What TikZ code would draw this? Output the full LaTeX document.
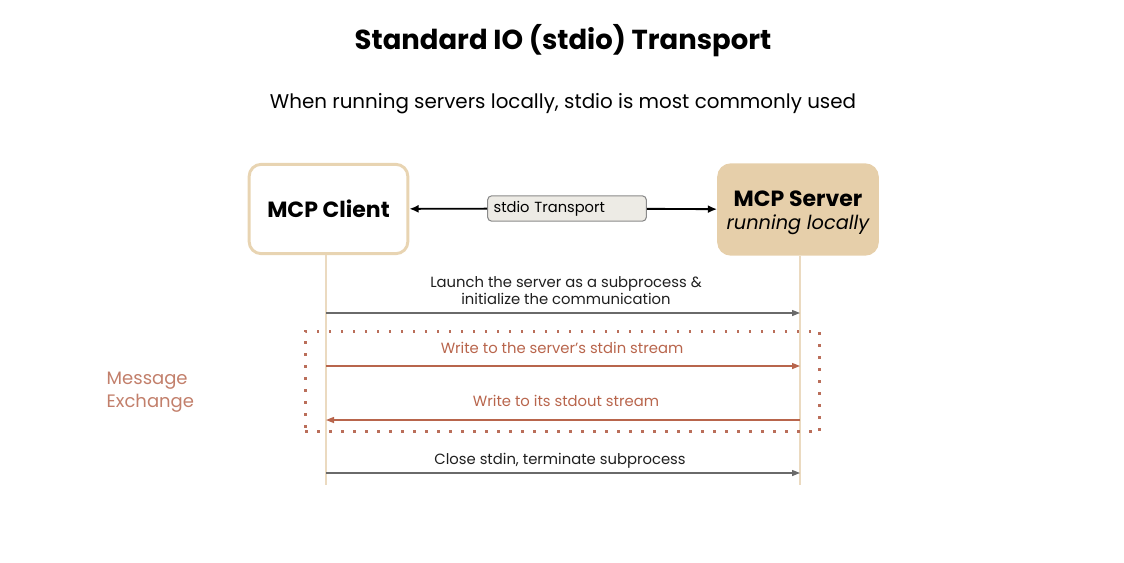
\documentclass[tikz,border=0pt]{standalone}
\usepackage{fontspec}
\setmainfont{Poppins}
\usepackage{xcolor}
\usetikzlibrary{arrows.meta,positioning}

\definecolor{tanline}{HTML}{E8D4B2}
\definecolor{tanfill}{HTML}{E6CFAA}
\definecolor{lifeline}{HTML}{EBDAC0}
\definecolor{msggray}{HTML}{6A6A6A}
\definecolor{msgred}{HTML}{B8654C}
\definecolor{dotred}{HTML}{BA6E5A}
\definecolor{exchtext}{HTML}{C27F6B}
\definecolor{chipfill}{HTML}{EDEBE5}
\definecolor{chipline}{HTML}{8A8A8A}

\begin{document}
\begin{tikzpicture}[
    x=0.75pt, y=-0.75pt,
    actor/.style={
        draw=tanline,
        line width=2.2pt,
        rounded corners=9pt,
        align=center,
        minimum width=119pt,
        minimum height=67pt,
        inner sep=2pt
    },
    client/.style={actor, fill=white},
    server/.style={actor, fill=tanfill, draw=tanfill},
    chip/.style={
        draw=chipline,
        fill=chipfill,
        rounded corners=3pt,
        line width=0.8pt,
        minimum width=119pt,
        minimum height=19pt,
        text width=110pt,
        align=left,
        font=\fontsize{11}{13}\selectfont
    },
    label/.style={font=\fontsize{11.1}{13}\selectfont, align=center, text=black!88},
    life/.style={draw=lifeline, line width=1pt},
    link/.style={-{Latex[length=7pt,width=6pt]}, line width=1.4pt, black},
    msg/.style={-{Triangle[length=6pt,width=4.5pt]}, line width=1pt, msggray},
    msgback/.style={msg, draw=msgred},
    group/.style={draw=dotred, line width=2.2pt, dash pattern=on 2pt off 7pt}
]
\useasboundingbox (0,0) rectangle (1124,562);

% titles
\node[font=\fontsize{20.6}{25}\selectfont\bfseries] (title) at (563,41) {Standard IO (stdio) Transport};
\node[font=\fontsize{14.9}{18}\selectfont] (subtitle) at (563,104) {When running servers locally, stdio is most commonly used};

% participants
\node[client, font=\fontsize{16.5}{20}\selectfont\bfseries] (mcpclient) at (328.5,209) {MCP Client};
\node[server] (mcpserver) at (798,209.5) {};
\node[font=\fontsize{16.5}{17.5}\selectfont, align=center] (servertext) at (798,213) {\textbf{MCP Server}\\{\fontsize{14.5}{17.5}\selectfont\itshape running locally}};
\node[chip] (transport) at (567,208.5) {stdio Transport};

\draw[link] (transport) -- (mcpclient);
\draw[link] (transport) -- (mcpserver);

% lifelines
\coordinate (clientend) at (326,485);
\coordinate (serverend) at (800,485);
\draw[life] (mcpclient.south -| clientend) -- (clientend);
\draw[life] (mcpserver.south -| serverend) -- (serverend);

% message exchange group
\node[group, minimum width=386pt, minimum height=75.5pt] (exchange) at (562.5,381.5) {};
\node[font=\fontsize{13.5}{17}\selectfont, text=exchtext, align=left, anchor=west] (exchlabel) at (102,392.5) {Message\\Exchange};

% messages
\coordinate (launchc) at (326,313);
\coordinate (launchs) at (800,313);
\coordinate (writec) at (326,366);
\coordinate (writes) at (800,366);
\coordinate (backc) at (326,420);
\coordinate (backs) at (800,420);
\coordinate (closec) at (326,473);
\coordinate (closes) at (800,473);

\draw[msg] (launchc) -- (launchs);
\draw[msg, draw=msgred] (writec) -- (writes);
\draw[msgback] (backs) -- (backc);
\draw[msg] (closec) -- (closes);

\node[label] (launchlabel) at (566,290.5) {Launch the server as a subprocess \&\\initialize the communication};
\node[label, text=msgred] (writelabel) at (562,347.5) {Write to the server’s stdin stream};
\node[label, text=msgred] (backlabel) at (566,401) {Write to its stdout stream};
\node[label] (closelabel) at (560,461) {Close stdin, terminate subprocess};
\end{tikzpicture}
\end{document}
